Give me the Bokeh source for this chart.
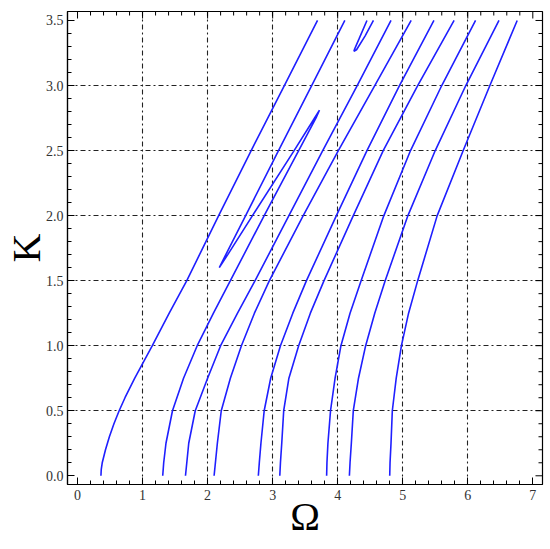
from bokeh.plotting import figure
from bokeh.models import Range1d, SingleIntervalTicker, FixedTicker, NumeralTickFormatter
from bokeh.embed import file_html
from bokeh.resources import INLINE

# branch 1
k_1 = [0.0, 0.05, 0.1, 0.2, 0.3, 0.4, 0.5, 0.6, 0.75, 1.0, 1.25, 1.5, 2.0, 2.5, 3.0, 3.5]
omega_1 = [0.36, 0.365, 0.38, 0.43, 0.49, 0.56, 0.64, 0.73, 0.88, 1.15, 1.41, 1.68, 2.17, 2.67, 3.18, 3.69]
# branch 2 (S-shaped fold between K=1.6 and K=2.81)
k_2 = [0.0, 0.1, 0.25, 0.5, 0.75, 1.0, 1.25, 1.5, 2.0, 2.5, 2.75, 2.81, 2.75, 2.5, 2.0, 1.7, 1.6, 1.7, 2.0, 2.5, 3.0, 3.5]
omega_2 = [1.31, 1.325, 1.36, 1.46, 1.63, 1.84, 2.09, 2.35, 2.87, 3.40, 3.665, 3.72, 3.645, 3.33, 2.69, 2.31, 2.18, 2.28, 2.585, 3.09, 3.60, 4.11]
# branches 3..9
k_std = [0.0, 0.1, 0.25, 0.5, 0.75, 1.0, 1.25, 1.5, 2.0, 2.5, 3.0, 3.5]
omega_3 = [1.66, 1.68, 1.71, 1.81, 2.00, 2.20, 2.46, 2.73, 3.25, 3.77, 4.30, 4.82]
omega_4 = [2.10, 2.12, 2.15, 2.21, 2.35, 2.52, 2.72, 2.95, 3.47, 4.01, 4.57, 5.13]
omega_5 = [2.78, 2.795, 2.82, 2.87, 2.97, 3.12, 3.31, 3.52, 3.98, 4.45, 4.95, 5.48]
omega_6 = [3.11, 3.12, 3.14, 3.17, 3.25, 3.40, 3.58, 3.79, 4.24, 4.70, 5.23, 5.79]
omega_7 = [3.83, 3.835, 3.85, 3.89, 3.96, 4.05, 4.19, 4.36, 4.71, 5.12, 5.60, 6.12]
omega_8 = [4.18, 4.19, 4.21, 4.24, 4.32, 4.43, 4.57, 4.73, 5.08, 5.50, 5.97, 6.48]
omega_9 = [4.80, 4.805, 4.82, 4.84, 4.90, 4.98, 5.09, 5.23, 5.53, 5.93, 6.34, 6.76]
# small V-shaped branch near the top
k_v = [3.50, 3.36, 3.28, 3.264, 3.275, 3.38, 3.50]
omega_v = [4.45, 4.33, 4.26, 4.25, 4.29, 4.42, 4.55]

x_grid = [1, 2, 3, 4, 5, 6]
y_grid = [0.5, 1.0, 1.5, 2.0, 2.5, 3.0]
x_major = [0, 1, 2, 3, 4, 5, 6, 7]
y_major = [0.0, 0.5, 1.0, 1.5, 2.0, 2.5, 3.0, 3.5]

X0, X1 = -0.154, 7.149
Y0, Y1 = -0.067, 3.569
BLUE = "#1f1fff"
SERIF = "Liberation Serif"

p = figure(frame_width=475, frame_height=473,
           x_range=Range1d(X0, X1), y_range=Range1d(Y0, Y1),
           output_backend="svg", toolbar_location=None,
           min_border_left=67, min_border_top=11, min_border_right=8, min_border_bottom=0,
           background_fill_color="white", border_fill_color="white")
p.outline_line_color = "black"
p.outline_line_width = 1.2

branches = [(omega_1, k_1), (omega_2, k_2)] + [(o, k_std) for o in
            [omega_3, omega_4, omega_5, omega_6, omega_7, omega_8, omega_9]] + [(omega_v, k_v)]
for om, kk in branches:
    p.line(om, kk, line_color=BLUE, line_width=1.6)

for ax, iv in ((p.xaxis[0], 1), (p.yaxis[0], 0.5)):
    ax.ticker = SingleIntervalTicker(interval=iv, num_minor_ticks=5)
    ax.axis_line_color = "black"
    ax.axis_line_width = 1.2
    ax.major_tick_in = 7
    ax.major_tick_out = 0
    ax.minor_tick_in = 4
    ax.minor_tick_out = 0
    ax.major_tick_line_color = "black"
    ax.minor_tick_line_color = "black"
    ax.major_label_text_font = SERIF
    ax.major_label_text_font_size = "14px"
    ax.major_label_text_color = "#333333"
    ax.axis_label_text_font = SERIF
    ax.axis_label_text_font_size = "40px"
    ax.axis_label_text_font_style = "normal"
    ax.axis_label_text_color = "black"
p.yaxis.formatter = NumeralTickFormatter(format="0.0")
p.xaxis.major_label_standoff = 5
p.yaxis.major_label_standoff = 4
p.xaxis.axis_label = "Ω"
p.yaxis.axis_label = "K"
p.xaxis.axis_label_standoff = -9
p.yaxis.axis_label_standoff = -6

# mirrored ticks on the top and right frame edges
x_minor = [round(i * 0.2, 1) for i in range(0, 36) if i % 5 != 0]
y_minor = [round(i * 0.1, 1) for i in range(0, 36) if i % 5 != 0]
p.ray(x=x_major, y=[Y1] * len(x_major), length=7, length_units="screen",
      angle=-90, angle_units="deg", line_color="black", line_width=1)
p.ray(x=x_minor, y=[Y1] * len(x_minor), length=4, length_units="screen",
      angle=-90, angle_units="deg", line_color="black", line_width=1)
p.ray(x=[X1] * len(y_major), y=y_major, length=7, length_units="screen",
      angle=180, angle_units="deg", line_color="black", line_width=1)
p.ray(x=[X1] * len(y_minor), y=y_minor, length=4, length_units="screen",
      angle=180, angle_units="deg", line_color="black", line_width=1)

p.xgrid.ticker = FixedTicker(ticks=x_grid)
p.ygrid.ticker = FixedTicker(ticks=y_grid)
for g in (p.xgrid[0], p.ygrid[0]):
    g.grid_line_color = "#222222"
    g.grid_line_width = 1.1
    g.grid_line_dash = "5 3 2 3"

open("out.html", "w").write(file_html(p, INLINE))
